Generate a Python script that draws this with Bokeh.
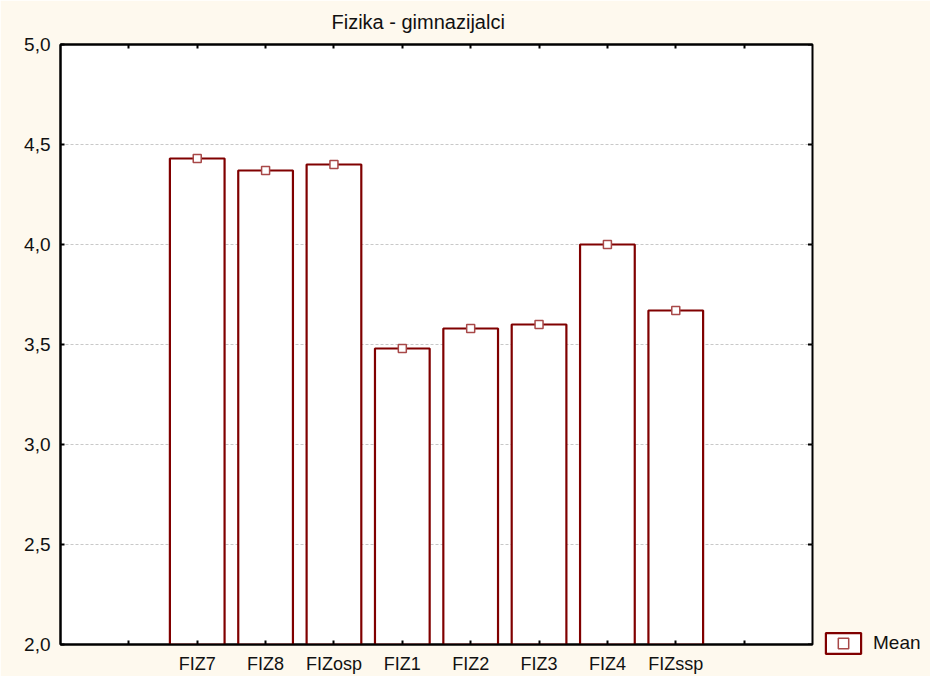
from bokeh.plotting import figure
from bokeh.models import (ColumnDataSource, Range1d, FixedTicker, LinearAxis, Legend,
                          LegendItem, Title)
from bokeh.embed import file_html
from bokeh.resources import INLINE

# ---- data ----
categories = ["FIZ7", "FIZ8", "FIZosp", "FIZ1", "FIZ2", "FIZ3", "FIZ4", "FIZssp"]
means = [4.43, 4.37, 4.40, 3.48, 3.58, 3.60, 4.00, 3.67]
y_ticks = [2.0, 2.5, 3.0, 3.5, 4.0, 4.5, 5.0]
y_tick_labels = ["2,0", "2,5", "3,0", "3,5", "4,0", "4,5", "5,0"]
title_text = "Fizika - gimnazijalci"
legend_label = "Mean"

FONT = "Liberation Sans"
BG = "#FEF9EE"
DARKRED = "#800000"
TXT = "#111111"

xs = list(range(len(categories)))
src = ColumnDataSource(dict(x=xs, mean=means))
xr = Range1d(-2, len(categories) + 1)

p = figure(frame_width=752, frame_height=600, output_backend="svg", toolbar_location=None,
           x_range=xr, y_range=Range1d(2.0, 5.0),
           min_border_left=60, min_border_top=44, min_border_bottom=10, min_border_right=0,
           background_fill_color="white", border_fill_color=BG)
p.title = None

# bars
bars = p.vbar(x="x", top="mean", bottom=2.0, width=0.8, source=src,
              fill_color="white", line_color=DARKRED, line_width=2.2)
pts = p.scatter(x="x", y="mean", source=src, marker="square", size=8,
                fill_color="white", line_color="#A84848", line_width=1.5)

# inward ticks on the right frame edge (half of each dash is clipped by the frame)
p.scatter(x=[xr.end] * len(y_ticks), y=y_ticks, marker="dash", size=9,
          line_color="black", line_width=2)

# x axis
xt = list(range(-1, len(categories) + 1))
overrides = {i: "" for i in xt}
for i, c in enumerate(categories):
    overrides[i] = c
p.xaxis.ticker = FixedTicker(ticks=xt)
p.xaxis.major_label_overrides = overrides

p.yaxis.ticker = FixedTicker(ticks=y_ticks)
p.yaxis.major_label_overrides = {v: l for v, l in zip(y_ticks, y_tick_labels)}

for ax in [p.xaxis[0], p.yaxis[0]]:
    ax.axis_line_color = "black"
    ax.axis_line_width = 2
    ax.major_tick_in = 4
    ax.major_tick_out = 0
    ax.major_tick_line_color = "black"
    ax.major_tick_line_width = 2
    ax.minor_tick_line_color = None
    ax.major_label_text_font = FONT
    ax.major_label_text_color = TXT
p.xaxis.major_label_text_font_size = "18px"
p.yaxis.major_label_text_font_size = "19px"
p.xaxis.major_label_standoff = 9
p.yaxis.major_label_standoff = 10

top_axis = LinearAxis(ticker=FixedTicker(ticks=xt), major_label_overrides={i: "" for i in xt},
                      axis_line_color="black", axis_line_width=2, major_tick_in=4,
                      major_tick_out=0, major_tick_line_width=2, minor_tick_line_color=None,
                      major_label_text_font_size="0px", major_label_standoff=0)
p.add_layout(top_axis, "above")

# title
t = Title(text=title_text, align="left", offset=271, text_font=FONT, vertical_align="top",
          text_font_size="20px", text_font_style="normal", text_color=TXT, standoff=19)
p.add_layout(t, "above")

p.xgrid.grid_line_color = None
p.ygrid.ticker = FixedTicker(ticks=y_ticks[1:-1])
p.ygrid.grid_line_color = "#C8C8C8"
p.ygrid.grid_line_dash = "3 2"
p.ygrid.grid_line_width = 1

p.outline_line_color = "black"
p.outline_line_width = 2

legend = Legend(items=[LegendItem(label=legend_label, renderers=[bars, pts])],
                location=(9, -12), orientation="vertical",
                glyph_width=44, glyph_height=26, label_text_font=FONT,
                label_text_font_size="19px", label_text_color=TXT,
                label_standoff=8, padding=0, margin=0, spacing=0,
                border_line_color=None, background_fill_alpha=0)
p.add_layout(legend, "right")

open("out.html", "w").write(file_html(p, INLINE))
